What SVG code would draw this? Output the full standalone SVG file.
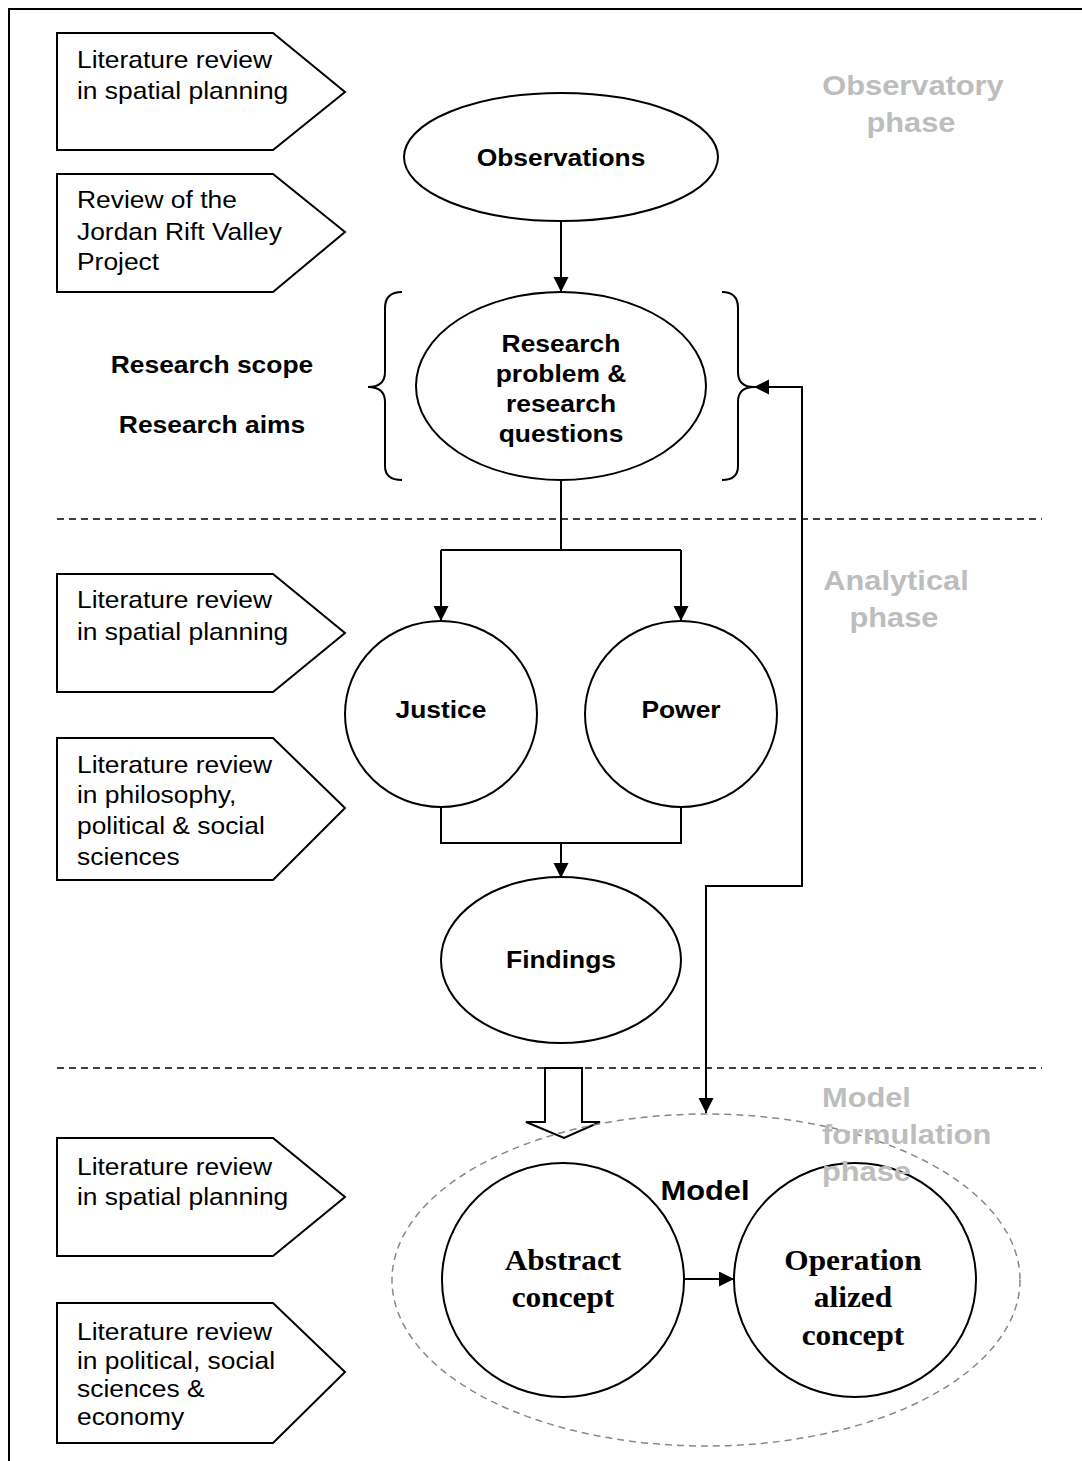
<svg xmlns="http://www.w3.org/2000/svg" width="1082" height="1461" viewBox="0 0 1082 1461">
  <style>
    text { font-family: "Liberation Sans", Arial, sans-serif; fill: #000; transform-box: fill-box; transform: scaleX(1.1); }
    .l { font-size: 24px; transform-origin: 0% 50%; }
    .b { font-size: 24px; font-weight: bold; text-anchor: middle; transform-origin: 50% 50%; }
    .m { font-size: 28px; font-weight: bold; text-anchor: middle; transform-origin: 50% 50%; }
    .t { font-family: "Liberation Serif", "Times New Roman", serif; font-size: 29px; font-weight: bold; text-anchor: middle; transform-origin: 50% 50%; transform: scaleX(1.08); }
    .ph { font-size: 28px; font-weight: bold; fill: #bdbdbd; text-anchor: middle; transform-origin: 50% 50%; }
    .phl { font-size: 28px; font-weight: bold; fill: #bdbdbd; transform-origin: 0% 50%; }
    .shape { fill: #fff; stroke: #000; stroke-width: 2; }
    .line { fill: none; stroke: #000; stroke-width: 2; }
    .sep { fill: none; stroke: #000; stroke-width: 1.5; stroke-dasharray: 7 5; }
  </style>
  <defs>
    <marker id="arr" markerUnits="userSpaceOnUse" markerWidth="16" markerHeight="16" refX="15" refY="7.5" orient="auto-start-reverse">
      <path d="M0,0 L15,7.5 L0,15 Z" fill="#000"/>
    </marker>
  </defs>

  <!-- page frame -->
  <path class="line" d="M9,1461 V9 H1082"/>

  <!-- phase separators -->
  <line class="sep" x1="57" y1="519" x2="1042" y2="519"/>
  <line class="sep" x1="57" y1="1068" x2="1042" y2="1068"/>

  <!-- phase labels -->
  <g id="phase-observatory">
    <text class="ph" x="913" y="95">Observatory</text>
    <text class="ph" x="911" y="132">phase</text>
  </g>
  <g id="phase-analytical">
    <text class="ph" x="896" y="590">Analytical</text>
    <text class="ph" x="894" y="627">phase</text>
  </g>

  <!-- literature inputs -->
  <g id="lit-1">
    <path class="shape" d="M57,33 H273 L345,92 L273,150 H57 Z"/>
    <text class="l" x="77" y="68">Literature review</text>
    <text class="l" x="77" y="99">in spatial planning</text>
  </g>
  <g id="lit-2">
    <path class="shape" d="M57,174 H273 L345,232 L273,292 H57 Z"/>
    <text class="l" x="77" y="208">Review of the</text>
    <text class="l" x="77" y="240">Jordan Rift Valley</text>
    <text class="l" x="77" y="270">Project</text>
  </g>
  <g id="lit-3">
    <path class="shape" d="M57,574 H273 L345,633 L273,692 H57 Z"/>
    <text class="l" x="77" y="608">Literature review</text>
    <text class="l" x="77" y="640">in spatial planning</text>
  </g>
  <g id="lit-4">
    <path class="shape" d="M57,738 H273 L345,808 L273,880 H57 Z"/>
    <text class="l" x="77" y="773">Literature review</text>
    <text class="l" x="77" y="803">in philosophy,</text>
    <text class="l" x="77" y="834">political &amp; social</text>
    <text class="l" x="77" y="865">sciences</text>
  </g>
  <g id="lit-5">
    <path class="shape" d="M57,1138 H273 L345,1197 L273,1256 H57 Z"/>
    <text class="l" x="77" y="1175">Literature review</text>
    <text class="l" x="77" y="1205">in spatial planning</text>
  </g>
  <g id="lit-6">
    <path class="shape" d="M57,1303 H273 L345,1372 L273,1443 H57 Z"/>
    <text class="l" x="77" y="1340">Literature review</text>
    <text class="l" x="77" y="1369">in political, social</text>
    <text class="l" x="77" y="1397">sciences &amp;</text>
    <text class="l" x="77" y="1425">economy</text>
  </g>

  <!-- scope and aims -->
  <g id="scope">
    <text class="b" x="212" y="373">Research scope</text>
    <text class="b" x="212" y="433">Research aims</text>
  </g>

  <!-- braces around the research problem -->
  <g id="braces">
    <path class="line" stroke-width="1.5" d="M402,292 Q385,292 385,308 V372 Q385,387 368,387 Q385,387 385,402 V466 Q385,480 402,480"/>
    <path class="line" stroke-width="1.5" d="M722,292 Q738,292 738,308 V372 Q738,387 754,387 Q738,387 738,402 V466 Q738,480 722,480"/>
  </g>

  <!-- connectors -->
  <g id="connectors">
    <line class="line" x1="561" y1="221" x2="561" y2="292" marker-end="url(#arr)"/>
    <path class="line" d="M561,480 V550 M441,550 H681"/>
    <line class="line" x1="441" y1="550" x2="441" y2="621" marker-end="url(#arr)"/>
    <line class="line" x1="681" y1="550" x2="681" y2="621" marker-end="url(#arr)"/>
    <path class="line" d="M441,808 V843 H681 V808"/>
    <line class="line" x1="561" y1="843" x2="561" y2="878" marker-end="url(#arr)"/>
    <path class="line" d="M706,1113 V886 H802 V387 H754" marker-start="url(#arr)" marker-end="url(#arr)"/>
    <line class="line" x1="685" y1="1279" x2="734" y2="1279" marker-end="url(#arr)"/>
    <polygon class="shape" stroke-width="1.5" points="545,1068 582,1068 582,1122 600,1122 564,1138 526,1122 545,1122"/>
  </g>

  <!-- process nodes -->
  <g id="observations">
    <ellipse class="shape" cx="561" cy="157" rx="157" ry="64"/>
    <text class="b" x="561" y="166">Observations</text>
  </g>
  <g id="research-problem">
    <ellipse class="shape" cx="561" cy="386" rx="145" ry="94"/>
    <text class="b" x="561" y="352">Research</text>
    <text class="b" x="561" y="382">problem &amp;</text>
    <text class="b" x="561" y="412">research</text>
    <text class="b" x="561" y="442">questions</text>
  </g>
  <g id="justice">
    <ellipse class="shape" cx="441" cy="714" rx="96" ry="93"/>
    <text class="b" x="441" y="718">Justice</text>
  </g>
  <g id="power">
    <ellipse class="shape" cx="681" cy="714" rx="96" ry="93"/>
    <text class="b" x="681" y="718">Power</text>
  </g>
  <g id="findings">
    <ellipse class="shape" cx="561" cy="960" rx="120" ry="83"/>
    <text class="b" x="561" y="968">Findings</text>
  </g>

  <!-- model -->
  <g id="model">
    <ellipse cx="706" cy="1280" rx="314" ry="166" fill="none" stroke="#888" stroke-width="1.5" stroke-dasharray="7 5"/>
    <text class="m" x="705" y="1200">Model</text>
  </g>
  <g id="abstract-concept">
    <ellipse class="shape" cx="563" cy="1280" rx="121" ry="117"/>
    <text class="t" x="563" y="1270">Abstract</text>
    <text class="t" x="563" y="1307">concept</text>
  </g>
  <g id="operationalized-concept">
    <ellipse class="shape" cx="855" cy="1280" rx="121" ry="117"/>
    <text class="t" x="853" y="1270">Operation</text>
    <text class="t" x="853" y="1307">alized</text>
    <text class="t" x="853" y="1345">concept</text>
  </g>

  <!-- model phase label sits over the model shapes -->
  <g id="phase-model">
    <text class="phl" x="822" y="1107">Model</text>
    <text class="phl" x="822" y="1144">formulation</text>
    <text class="phl" x="822" y="1181">phase</text>
  </g>
</svg>
